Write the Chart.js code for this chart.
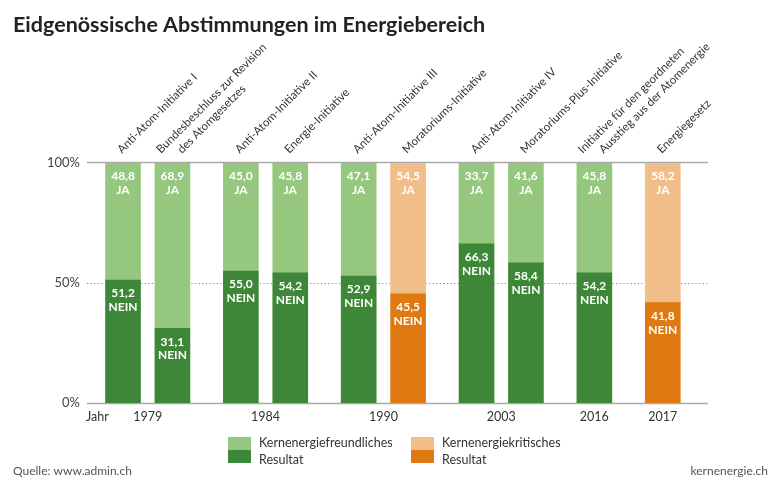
<!DOCTYPE html>
<html>
<head>
<meta charset="utf-8">
<script src="https://cdn.jsdelivr.net/npm/chart.js@4"></script>
<style>
  body { margin: 0; background: #fff; }
  canvas { display: block; }
</style>
</head>
<body>
<canvas id="chart" width="780" height="485"></canvas>
<script>
// data
const categories = [
  ["Anti-Atom-Initiative I"],
  ["Bundesbeschluss zur Revision", "des Atomgesetzes"],
  ["Anti-Atom-Initiative II"],
  ["Energie-Initiative"],
  ["Anti-Atom-Initiative III"],
  ["Moratoriums-Initiative"],
  ["Anti-Atom-Initiative IV"],
  ["Moratoriums-Plus-Initiative"],
  ["Initiative für den geordneten", "Ausstieg aus der Atomenergie"],
  ["Energiegesetz"]
];
const years = [1979, 1979, 1984, 1984, 1990, 1990, 2003, 2003, 2016, 2017];
const jaValues = [48.8, 68.9, 45.0, 45.8, 47.1, 54.5, 33.7, 41.6, 45.8, 58.2];
const neinValues = [51.2, 31.1, 55.0, 54.2, 52.9, 45.5, 66.3, 58.4, 54.2, 41.8];
// pro = kernenergiefreundliches Resultat, contra = kernenergiekritisches Resultat
const outcome = ["pro", "pro", "pro", "pro", "pro", "contra", "pro", "pro", "pro", "contra"];
const yTicks = [0, 50, 100];
const legendItems = [
  { key: "pro", lines: ["Kernenergiefreundliches", "Resultat"] },
  { key: "contra", lines: ["Kernenergiekritisches", "Resultat"] }
];

const colors = {
  pro: { ja: "#96c77f", nein: "#3e8738" },
  contra: { ja: "#f1bd89", nein: "#de7a11" }
};
const FONT = "Lato, 'Open Sans', sans-serif";

// x position: bars of one year sit close, a wider gap between years
const GROUP_GAP = 0.385;
let grp = 0;
const xPos = years.map((y, i) => {
  if (i > 0 && y !== years[i - 1]) grp++;
  return i + grp * GROUP_GAP;
});

const fmt = v => v.toFixed(1).replace(".", ",");

const deco = {
  id: "deco",
  beforeDatasetsDraw(chart) {
    const { ctx, chartArea: a, scales: { y } } = chart;
    ctx.save();
    yTicks.forEach(t => {
      const py = Math.round(y.getPixelForValue(t)) + 0.5;
      ctx.beginPath();
      if (t === 50) {
        ctx.setLineDash([1.2, 2.4]);
        ctx.strokeStyle = "#888";
        ctx.lineWidth = 1;
      } else {
        ctx.setLineDash([]);
        ctx.strokeStyle = "#aaa";
        ctx.lineWidth = 1.5;
      }
      const off = t === 100 ? -1 : 0;
      ctx.moveTo(a.left, py + off);
      ctx.lineTo(a.right, py + off);
      ctx.stroke();
    });
    ctx.restore();
  },
  afterDatasetsDraw(chart) {
    const { ctx } = chart;
    ctx.save();
    ctx.fillStyle = "#fff";
    ctx.font = "bold 12px " + FONT;
    ctx.textAlign = "center";
    ctx.textBaseline = "middle";
    chart.data.datasets.forEach((ds, d) => {
      chart.getDatasetMeta(d).data.forEach((el, i) => {
        const top = Math.min(el.y, el.base);
        ctx.fillText(fmt(ds.data[i].y), el.x, top + 13.5);
        ctx.fillText(ds.label, el.x, top + 27);
      });
    });
    ctx.restore();
  },
  afterDraw(chart) {
    const { ctx, chartArea: a, scales: { x } } = chart;
    ctx.save();
    // title
    ctx.fillStyle = "#222";
    ctx.font = "bold 21.5px " + FONT;
    ctx.textAlign = "left";
    ctx.textBaseline = "middle";
    ctx.fillText("Eidgenössische Abstimmungen im Energiebereich", 13, 25);

    // rotated category labels
    ctx.fillStyle = "#333";
    ctx.font = "11.5px " + FONT;
    ctx.textBaseline = "alphabetic";
    categories.forEach((lines, i) => {
      const cx = x.getPixelForValue(xPos[i]) - 1;
      lines.forEach((line, k) => {
        const sx = cx + (k - (lines.length - 1) / 2) * 21;
        ctx.save();
        ctx.translate(sx, a.top - 9);
        ctx.rotate(-Math.PI / 4);
        ctx.fillText(line, 0, 0);
        ctx.restore();
      });
    });

    // year labels
    ctx.font = "12.5px " + FONT;
    ctx.textBaseline = "middle";
    ctx.textAlign = "left";
    ctx.fillText("Jahr", 86, a.bottom + 14);
    ctx.textAlign = "center";
    [...new Set(years)].forEach(yr => {
      const ps = xPos.filter((p, i) => years[i] === yr);
      const mid = ps.reduce((s, p) => s + p, 0) / ps.length;
      ctx.fillText(String(yr), x.getPixelForValue(mid), a.bottom + 14);
    });

    // legend
    ctx.font = "12.5px " + FONT;
    ctx.textAlign = "left";
    legendItems.forEach((it, j) => {
      const lx = 228 + j * 183;
      ctx.fillStyle = colors[it.key].ja;
      ctx.fillRect(lx, 437, 23, 13);
      ctx.fillStyle = colors[it.key].nein;
      ctx.fillRect(lx, 450, 23, 13);
      ctx.fillStyle = "#333";
      ctx.fillText(it.lines[0], lx + 31, 443);
      ctx.fillText(it.lines[1], lx + 31, 460);
    });

    // source
    ctx.fillStyle = "#555";
    ctx.font = "12px " + FONT;
    ctx.fillText("Quelle: www.admin.ch", 13, 471);
    ctx.textAlign = "right";
    ctx.fillText("kernenergie.ch", 768, 471);
    ctx.restore();
  }
};

new Chart(document.getElementById("chart"), {
  type: "bar",
  data: {
    datasets: [
      {
        label: "NEIN",
        data: neinValues.map((v, i) => ({ x: xPos[i], y: v })),
        backgroundColor: outcome.map(o => colors[o].nein),
        barThickness: 35
      },
      {
        label: "JA",
        data: jaValues.map((v, i) => ({ x: xPos[i], y: v })),
        backgroundColor: outcome.map(o => colors[o].ja),
        barThickness: 35
      }
    ]
  },
  options: {
    responsive: false,
    animation: false,
    devicePixelRatio: 1,
    layout: { padding: { top: 163, right: 72, bottom: 82, left: 0 } },
    plugins: { legend: { display: false }, tooltip: { enabled: false } },
    scales: {
      x: {
        type: "linear",
        stacked: true,
        display: false,
        offset: false,
        min: -0.729,
        max: 11.84
      },
      y: {
        stacked: true,
        min: 0,
        max: 100,
        afterFit: s => { s.width = 87; },
        afterBuildTicks: s => { s.ticks = yTicks.map(v => ({ value: v })); },
        grid: { display: false, drawTicks: false },
        border: { display: false },
        ticks: {
          padding: 7,
          color: "#444",
          font: { family: FONT, size: 13 },
          callback: v => v + "%"
        }
      }
    }
  },
  plugins: [deco]
});
</script>
</body>
</html>
